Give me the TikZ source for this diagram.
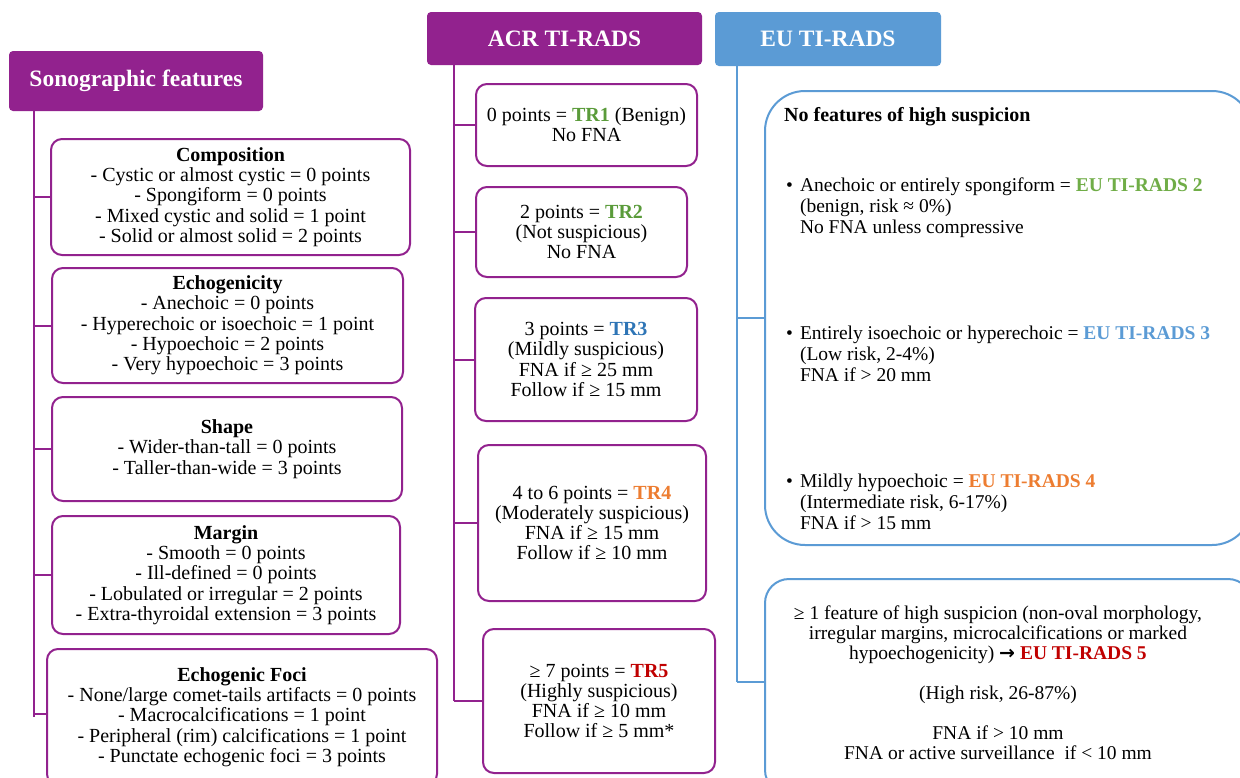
\documentclass[tikz,border=0pt]{standalone}
\usepackage{fontspec}
\setmainfont{Liberation Serif}
\newfontfamily\dejavu{DejaVu Sans}
\definecolor{purp}{RGB}{146,34,142}
\definecolor{eublue}{RGB}{91,155,213}
\definecolor{trgreen}{RGB}{90,155,58}
\definecolor{eugreen}{RGB}{112,173,71}
\definecolor{trblue}{RGB}{46,117,182}
\definecolor{trorange}{RGB}{237,125,49}
\definecolor{trred}{RGB}{192,0,0}
\tikzset{
  hdr/.style={rectangle, rounded corners=4pt, inner sep=0pt, text=white,
     font=\fontsize{23.5}{26}\selectfont\bfseries},
  pbox/.style={draw=purp, line width=2pt, rounded corners=11pt, inner sep=0pt,
     align=center, font=\fontsize{20}{20.3}\selectfont},
  bbox/.style={draw=eublue, line width=2pt, inner sep=0pt},
  pline/.style={draw=purp, line width=2pt},
  bline/.style={draw=eublue, line width=2pt},
  txt/.style={inner sep=0pt, font=\fontsize{19.5}{20.7}\selectfont},
}
\begin{document}
\begin{tikzpicture}[x=1pt,y=-1pt]
\useasboundingbox (0,0) rectangle (1240,777);
\clip (0,0) rectangle (1240,777);
\fill[white] (0,0) rectangle (1240,777);

% headers
\node[hdr, fill=purp, minimum width=254pt, minimum height=60pt] (sono) at (136,81) {Sonographic features};
\node[hdr, fill=purp, minimum width=275pt, minimum height=53pt] (acr) at (564.5,38.5) {ACR TI-RADS};
\node[hdr, fill=eublue, minimum width=226pt, minimum height=54pt] (eu) at (828,39) {EU TI-RADS};

% sonographic feature boxes
\node[pbox, minimum width=359pt, minimum height=116pt] (comp) at (230.5,197) {\textbf{Composition}\\- Cystic or almost cystic = 0 points\\- Spongiform = 0 points\\- Mixed cystic and solid = 1 point\\- Solid or almost solid = 2 points};
\node[pbox, minimum width=351pt, minimum height=115pt] (echo) at (227.5,325.5) {\textbf{Echogenicity}\\- Anechoic = 0 points\\- Hyperechoic or isoechoic = 1 point\\- Hypoechoic = 2 points\\- Very hypoechoic = 3 points};
\node[pbox, minimum width=350pt, minimum height=104pt] (shape) at (227,449) {\textbf{Shape}\\- Wider-than-tall = 0 points\\- Taller-than-wide = 3 points};
\node[pbox, minimum width=348pt, minimum height=118pt] (marg) at (226,575) {\textbf{Margin}\\- Smooth = 0 points\\- Ill-defined = 0 points\\- Lobulated or irregular = 2 points\\- Extra-thyroidal extension = 3 points};
\node[pbox, minimum width=390pt, minimum height=136pt] (foci) at (242,717) {\textbf{Echogenic Foci}\\- None/large comet-tails artifacts = 0 points\\- Macrocalcifications = 1 point\\- Peripheral (rim) calcifications = 1 point\\- Punctate echogenic foci = 3 points};

% ACR boxes
\node[pbox, minimum width=221pt, minimum height=82pt] (tr1) at (586.5,125) {0 points = \textbf{\color{trgreen}TR1} (Benign)\\No FNA};
\node[pbox, minimum width=211pt, minimum height=90pt] (tr2) at (581.5,232) {2 points = \textbf{\color{trgreen}TR2}\\(Not suspicious)\\No FNA};
\node[pbox, minimum width=222pt, minimum height=123pt] (tr3) at (586,359.5) {3 points = \textbf{\color{trblue}TR3}\\(Mildly suspicious)\\FNA if ≥ 25 mm\\Follow if ≥ 15 mm};
\node[pbox, minimum width=228pt, minimum height=156pt] (tr4) at (592,523) {4 to 6 points = \textbf{\color{trorange}TR4}\\(Moderately suspicious)\\FNA if ≥ 15 mm\\Follow if ≥ 10 mm};
\node[pbox, minimum width=232pt, minimum height=144pt] (tr5) at (599,701) {≥ 7 points = \textbf{\color{trred}TR5}\\(Highly suspicious)\\FNA if ≥ 10 mm\\Follow if ≥ 5 mm*};

% EU boxes
\node[bbox, rounded corners=40pt, minimum width=487pt, minimum height=454pt] (eu1) at (1008.5,318) {};
\node[bbox, rounded corners=24pt, minimum width=487pt, minimum height=215pt] (eu2) at (1008.5,686.5) {};

\node[txt, anchor=west, font=\fontsize{20}{20.5}\selectfont] (nof) at (784,117) {\textbf{No features of high suspicion}};
\node[txt, anchor=west] (b2) at (786,208.5) {\begin{tabular}{@{}l@{\hspace{7pt}}l@{}}•&Anechoic or entirely spongiform = \textbf{\color{eugreen}EU TI-RADS 2}\\&(benign, risk ≈ 0\%)\\&No FNA unless compressive\end{tabular}};
\node[txt, anchor=west] (b3) at (786,356.5) {\begin{tabular}{@{}l@{\hspace{7pt}}l@{}}•&Entirely isoechoic or hyperechoic = \textbf{\color{eublue}EU TI-RADS 3}\\&(Low risk, 2-4\%)\\&FNA if > 20 mm\end{tabular}};
\node[txt, anchor=west] (b4) at (786,504.5) {\begin{tabular}{@{}l@{\hspace{7pt}}l@{}}•&Mildly hypoechoic = \textbf{\color{trorange}EU TI-RADS 4}\\&(Intermediate risk, 6-17\%)\\&FNA if > 15 mm\end{tabular}};
\node[txt, align=center, font=\fontsize{19.5}{20}\selectfont] (t5) at (998,683) {≥ 1 feature of high suspicion (non-oval morphology,\\irregular margins, microcalcifications or marked\\hypoechogenicity) {\dejavu\bfseries\fontsize{19}{20}\selectfont →} \textbf{\color{trred}EU TI-RADS 5}\\[20pt](High risk, 26-87\%)\\[20pt]FNA if > 10 mm\\FNA or active surveillance\ \ if < 10 mm};

% trunks
\coordinate (st) at (34,0);
\coordinate (at) at (454,0);
\coordinate (et) at (737,0);
\draw[pline] (sono.south -| st) -- (st |- foci.west);
\foreach \n in {comp,echo,shape,marg} \draw[pline] (st |- \n.west) -- (\n.west);
\draw[pline] (st |- 0,714) -- (foci.west |- 0,714);
\draw[pline] (acr.south -| at) -- (at |- tr5.west);
\foreach \n in {tr1,tr2,tr3,tr4,tr5} \draw[pline] (at |- \n.west) -- (\n.west);
\draw[bline] (eu.south -| et) -- (et |- 0,682);
\draw[bline] (et |- eu1.west) -- (eu1.west);
\draw[bline] (et |- 0,682) -- (eu2.west |- 0,682);
\end{tikzpicture}
\end{document}
